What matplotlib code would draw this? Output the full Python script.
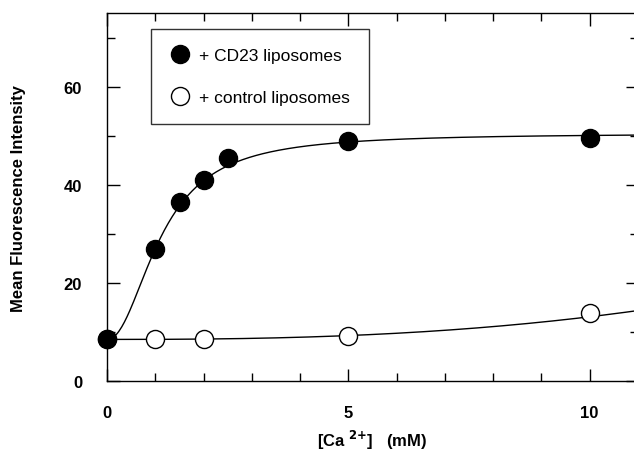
import numpy as np
import matplotlib
matplotlib.use("Agg")
import matplotlib.pyplot as plt
from matplotlib.ticker import MultipleLocator

plt.rcParams['font.family'] = ['Liberation Sans', 'DejaVu Sans']

# data
ca_cd23 = [0, 1, 1.5, 2, 2.5, 5, 10]
mfi_cd23 = [8.5, 27, 36.5, 41, 45.5, 49, 49.5]
ca_ctrl = [0, 1, 2, 5, 10]
mfi_ctrl = [8.5, 8.5, 8.5, 9.1, 13.8]

# fitted curve parameters (Hill type for CD23, power rise for control)
hill_base, hill_max, hill_k, hill_n = 8.5, 50.5, 1.12, 2.09
ctrl_base, ctrl_c, ctrl_p = 8.5, 0.013, 2.55

fig = plt.figure(figsize=(6.34, 4.56), dpi=100)
ax = fig.add_axes([0.169, 0.162, 0.837, 0.807])

xs = np.linspace(0, 11, 400)
y_hill = hill_base + (hill_max - hill_base) * xs**hill_n / (hill_k**hill_n + xs**hill_n)
y_ctrl = ctrl_base + ctrl_c * xs**ctrl_p
ax.plot(xs, y_hill, color='black', lw=1.0, zorder=2)
ax.plot(xs, y_ctrl, color='black', lw=1.0, zorder=2)

ax.plot(ca_ctrl, mfi_ctrl, 'o', ms=13, mfc='white', mec='black', mew=1.0,
        linestyle='none', label='+ control liposomes', zorder=3, clip_on=False)
ax.plot(ca_cd23, mfi_cd23, 'o', ms=13, mfc='black', mec='black',
        linestyle='none', label='+ CD23 liposomes', zorder=4, clip_on=False)

ax.set_xlim(0, 11)
ax.set_ylim(0, 75)
ax.xaxis.set_major_locator(MultipleLocator(5))
ax.xaxis.set_minor_locator(MultipleLocator(1))
ax.yaxis.set_major_locator(MultipleLocator(20))
ax.yaxis.set_minor_locator(MultipleLocator(10))
ax.tick_params(which='both', direction='in', top=True, right=True, width=1.0)
ax.tick_params(which='major', length=9, labelsize=12, pad=17)
ax.tick_params(which='minor', length=6)
ax.tick_params(axis='y', which='major', pad=18)
for lab in ax.get_xticklabels() + ax.get_yticklabels():
    lab.set_fontweight('bold')
for s in ax.spines.values():
    s.set_linewidth(1.0)

ax.set_xlabel('[Ca $^{\\mathbf{2{+}}}$]   (mM)', fontsize=12, fontweight='bold', labelpad=6)
ax.set_ylabel('Mean Fluorescence Intensity', fontsize=12, fontweight='bold', labelpad=27)

handles, labels = ax.get_legend_handles_labels()
leg = ax.legend(handles[::-1], labels[::-1], loc='upper left', bbox_to_anchor=(0.083, 0.958),
                frameon=True, fancybox=False, edgecolor='black', fontsize=12.5,
                borderpad=1.1, labelspacing=1.55, handletextpad=0.55, handlelength=1.1,
                borderaxespad=0)
leg.get_frame().set_linewidth(1.0)

fig.savefig('out.png', dpi=100)
